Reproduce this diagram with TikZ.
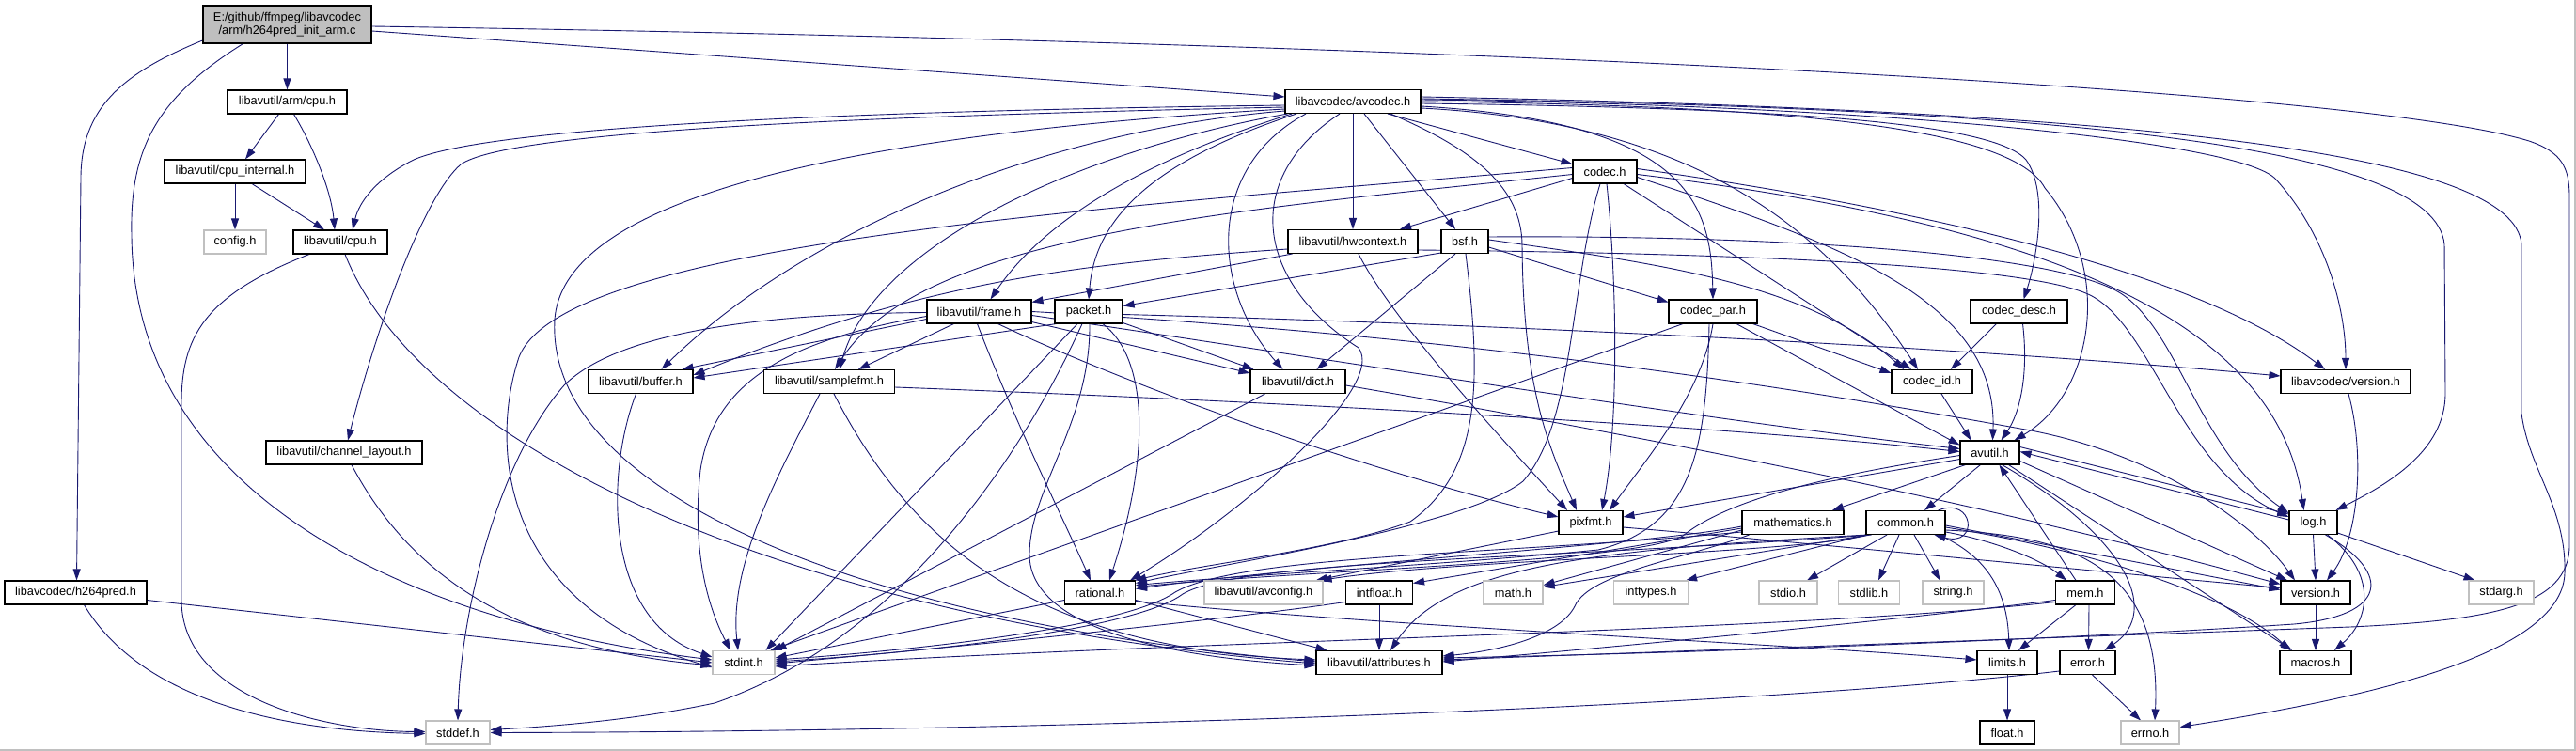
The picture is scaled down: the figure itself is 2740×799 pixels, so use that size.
\documentclass[tikz,border=0pt]{standalone}
\usepackage{fontspec}
\setmainfont{Liberation Sans}
\usetikzlibrary{arrows.meta,calc,backgrounds}
\definecolor{edgec}{HTML}{191970}
\definecolor{lgray}{HTML}{C0C0C0}
\definecolor{rootfill}{HTML}{BFBFBF}
\begin{document}
\begin{tikzpicture}[x=1pt,y=-1pt,
 nd/.style={draw=black,line width=1.1pt,fill=white,minimum height=25pt,inner sep=0pt,font=\fontsize{12.8}{14.5}\selectfont},
 ng/.style={nd,draw=lgray},
 e/.style={draw=edgec,line width=0.9pt,-{Triangle[length=12pt,width=8pt]}}]
\useasboundingbox (0,0) rectangle (2740,799);
% nodes
\node[nd,fill=rootfill,minimum width=179pt,minimum height=40pt,align=center] (root) at (305.5,26) {E:/github/ffmpeg/libavcodec\\/arm/h264pred\_init\_arm.c};
\node[nd,minimum width=127pt] (armcpu) at (305.5,108.5) {libavutil/arm/cpu.h};
\node[nd,minimum width=150pt] (cpuint) at (250,182.5) {libavutil/cpu\_internal.h};
\node[ng,minimum width=66pt] (config) at (250,257.5) {config.h};
\node[nd,minimum width=100pt] (cpu) at (362,257.5) {libavutil/cpu.h};
\node[nd,minimum width=166pt] (chlayout) at (366,481.5) {libavutil/channel\_layout.h};
\node[nd,minimum width=151pt] (h264pred) at (80.5,630.5) {libavcodec/h264pred.h};
\node[ng,minimum width=68pt] (stddef) at (487,779.5) {stddef.h};
\node[nd,minimum width=144pt] (avcodec) at (1439,108) {libavcodec/avcodec.h};
\node[nd,minimum width=68pt] (codec) at (1707,182.5) {codec.h};
\node[nd,minimum width=138pt] (hwcontext) at (1439,257) {libavutil/hwcontext.h};
\node[nd,minimum width=50pt] (bsf) at (1558,257) {bsf.h};
\node[nd,minimum width=111pt] (frame) at (1041.5,331.5) {libavutil/frame.h};
\node[nd,minimum width=72pt] (packet) at (1158,331.5) {packet.h};
\node[nd,minimum width=94pt] (codecpar) at (1822,331.5) {codec\_par.h};
\node[nd,minimum width=103pt] (codecdesc) at (2147.5,331.5) {codec\_desc.h};
\node[nd,minimum width=111pt] (buffer) at (681.5,406) {libavutil/buffer.h};
\node[nd,minimum width=139pt] (samplefmt) at (882,406) {libavutil/samplefmt.h};
\node[nd,minimum width=101pt] (dict) at (1380.5,406) {libavutil/dict.h};
\node[nd,minimum width=86pt] (codecid) at (2055,406) {codec\_id.h};
\node[nd,minimum width=138pt] (lavcversion) at (2495,406) {libavcodec/version.h};
\node[nd,minimum width=63pt] (avutil) at (2116.5,481.5) {avutil.h};
\node[nd,minimum width=68pt] (pixfmt) at (1692,556) {pixfmt.h};
\node[nd,minimum width=108pt] (mathematics) at (1907,556) {mathematics.h};
\node[nd,minimum width=84pt] (common) at (2027,556) {common.h};
\node[nd,minimum width=51pt] (log) at (2460.5,556) {log.h};
\node[nd,minimum width=75pt] (rational) at (1170,630.5) {rational.h};
\node[ng,minimum width=126pt] (avconfig) at (1344,630.5) {libavutil/avconfig.h};
\node[nd,minimum width=71pt] (intfloat) at (1467,630.5) {intfloat.h};
\node[ng,minimum width=63pt] (math) at (1609.5,630.5) {math.h};
\node[ng,minimum width=79pt] (inttypes) at (1756,630.5) {inttypes.h};
\node[ng,minimum width=62pt] (stdio) at (1902,630.5) {stdio.h};
\node[ng,minimum width=65pt] (stdlib) at (1988,630.5) {stdlib.h};
\node[ng,minimum width=65pt] (string) at (2077.5,630.5) {string.h};
\node[nd,minimum width=63pt] (mem) at (2218,630.5) {mem.h};
\node[nd,minimum width=74pt] (version) at (2463,630.5) {version.h};
\node[ng,minimum width=69pt] (stdarg) at (2660.5,630.5) {stdarg.h};
\node[ng,minimum width=66pt] (stdint) at (791,705) {stdint.h};
\node[nd,minimum width=134pt] (attributes) at (1467,705) {libavutil/attributes.h};
\node[nd,minimum width=64pt] (limits) at (2135,705) {limits.h};
\node[nd,minimum width=59pt] (error) at (2220.5,705) {error.h};
\node[nd,minimum width=76pt] (macros) at (2463,705) {macros.h};
\node[nd,minimum width=58pt] (float) at (2135,779.5) {float.h};
\node[ng,minimum width=62pt] (errno) at (2287,779.5) {errno.h};
\draw[lgray,line width=2pt] (0,798) -- (2739,798) -- (2739,0);
\begin{scope}[on background layer]
\fill[white] (0,0) rectangle (2740,799);
% root
\draw[e] (root.south) -- (armcpu.north);
\draw[e] ($(root.west)+(0,17)$) .. controls (130,78) and (86,115) .. (86,190) -- ($(h264pred.north)+(1,0)$);
\draw[e] ($(root.south)+(-47,0)$) .. controls (165,105) and (138,160) .. (140,250) .. controls (142,520) and (420,660) .. ($(stdint.west)+(0,-3)$);
\draw[e] ($(root.east)+(0,7)$) -- ($(avcodec.west)+(0,-5)$);
\draw[e] ($(root.east)+(0,2)$) .. controls (1500,45) and (2500,92) .. (2690,150) .. controls (2725,162) and (2733,178) .. (2733,210) -- (2733,580) .. controls (2733,645) and (2650,660) .. (2500,667) -- ($(attributes.east)+(0,-3)$);
% armcpu, cpuint, cpu
\draw[e] ($(armcpu.south)+(-9,0)$) -- ($(cpuint.north)+(11,0)$);
\draw[e] ($(armcpu.south)+(7,0)$) .. controls (330,150) and (352,200) .. ($(cpu.north)+(-6,0)$);
\draw[e] (cpuint.south) -- (config.north);
\draw[e] ($(cpuint.south)+(18,0)$) -- ($(cpu.north)+(-17,0)$);
\draw[e] ($(cpu.south)+(-33,0)$) .. controls (215,315) and (193,360) .. (193,430) -- (193,640) .. controls (195,745) and (350,778) .. ($(stddef.west)+(0,-1)$);
\draw[e] ($(cpu.south)+(5,0)$) .. controls (450,480) and (850,660) .. ($(attributes.west)+(0,1)$);
% chlayout, h264pred
\draw[e] ($(chlayout.south)+(8,0)$) .. controls (440,620) and (560,690) .. ($(stdint.west)+(0,3)$);
\draw[e] ($(h264pred.east)+(0,8)$) -- ($(stdint.west)+(0,0)$);
\draw[e] ($(h264pred.south)+(9,0)$) .. controls (150,745) and (300,778) .. ($(stddef.west)+(0,1)$);
% avcodec
\draw[e] ($(avcodec.west)+(0,4)$) .. controls (900,118) and (520,135) .. (440,170) .. controls (400,190) and (382,215) .. ($(cpu.north)+(13,0)$);
\draw[e] ($(avcodec.west)+(0,6)$) .. controls (900,124) and (540,140) .. (490,175) .. controls (450,210) and (400,350) .. ($(chlayout.north)+(4,0)$);
\draw[e] ($(avcodec.west)+(0,8)$) .. controls (950,140) and (600,200) .. (590,340) .. controls (580,520) and (900,660) .. ($(attributes.west)+(0,-1)$);
\draw[e] ($(avcodec.west)+(0,10)$) .. controls (1100,140) and (850,250) .. ($(buffer.north)+(22,0)$);
\draw[e] ($(avcodec.south west)+(3,0)$) .. controls (1150,160) and (930,260) .. ($(samplefmt.north)+(11,0)$);
\draw[e] ($(avcodec.south)+(-65,0)$) .. controls (1250,160) and (1120,220) .. ($(frame.north)+(12,0)$);
\draw[e] ($(avcodec.south)+(-60,0)$) .. controls (1230,170) and (1165,230) .. (packet.north);
\draw[e] ($(avcodec.south)+(-50,0)$) .. controls (1280,180) and (1290,310) .. ($(dict.north)+(-16,0)$);
\draw[e] ($(avcodec.south)+(-14,0)$) .. controls (1320,190) and (1335,300) .. (1445,370) .. controls (1475,410) and (1330,540) .. ($(rational.north east)+(-6,0)$);
\draw[e] (avcodec.south) -- (hwcontext.north);
\draw[e] ($(avcodec.south)+(12,0)$) -- ($(bsf.north)+(-10,0)$);
\draw[e] ($(avcodec.south)+(37,0)$) -- ($(codec.west)+(0,-8)$);
\draw[e] ($(avcodec.south)+(40,0)$) .. controls (1570,160) and (1618,200) .. (1619,260) .. controls (1620,420) and (1650,480) .. ($(pixfmt.north)+(-15,0)$);
\draw[e] ($(avcodec.east)+(0,5)$) .. controls (1800,130) and (1820,220) .. (codecpar.north);
\draw[e] ($(avcodec.east)+(0,7)$) .. controls (1800,130) and (1940,240) .. ($(codecid.north)+(-15,0)$);
\draw[e] ($(avcodec.east)+(0,2)$) .. controls (1900,115) and (2120,130) .. (2155,170) .. controls (2180,205) and (2165,280) .. ($(codecdesc.north)+(5,0)$);
\draw[e] ($(avcodec.east)+(0,0)$) .. controls (1900,112) and (2140,135) .. (2175,200) .. controls (2250,290) and (2225,420) .. ($(avutil.north east)+(-6,0)$);
\draw[e] ($(avcodec.east)+(0,-2)$) .. controls (2000,112) and (2380,150) .. (2420,190) .. controls (2475,250) and (2495,330) .. (lavcversion.north);
\draw[e] ($(avcodec.east)+(0,-3)$) .. controls (2200,115) and (2590,155) .. (2600,260) -- (2601,420) .. controls (2600,480) and (2540,515) .. ($(log.north east)+(-2,0)$);
\draw[e] ($(avcodec.east)+(0,-5)$) .. controls (2300,118) and (2675,165) .. (2682,260) -- (2682,440) .. controls (2690,500) and (2730,540) .. (2728,610) .. controls (2725,700) and (2500,745) .. ($(errno.east)+(0,-6)$);
% codec
\draw[e] ($(codec.west)+(0,7)$) -- ($(hwcontext.north)+(50,0)$);
\draw[e] ($(codec.west)+(0,3)$) .. controls (1300,225) and (980,250) .. ($(samplefmt.north)+(6,0)$);
\draw[e] ($(codec.west)+(0,-4)$) .. controls (1200,220) and (600,255) .. (552,380) .. controls (525,460) and (520,640) .. ($(stdint.west)+(0,5)$);
\draw[e] ($(codec.south)+(2,0)$) .. controls (1720,300) and (1722,450) .. ($(pixfmt.north)+(12,0)$);
\draw[e] ($(codec.south)+(-5,0)$) .. controls (1670,300) and (1675,450) .. (1620,512) .. controls (1560,560) and (1300,600) .. ($(rational.east)+(0,-10)$);
\draw[e] ($(codec.east)+(0,6)$) .. controls (1960,260) and (2125,320) .. ($(avutil.north)+(3,0)$);
\draw[e] ($(codec.south)+(20,0)$) -- ($(codecid.north)+(-22,0)$);
\draw[e] ($(codec.east)+(0,-3)$) .. controls (2100,230) and (2350,300) .. ($(lavcversion.north)+(-22,0)$);
\draw[e] ($(codec.east)+(0,3)$) .. controls (2150,235) and (2420,330) .. ($(log.north)+(-10,0)$);
% hwcontext
\draw[e] ($(hwcontext.west)+(0,8)$) .. controls (1150,280) and (980,300) .. ($(buffer.east)+(0,-7)$);
\draw[e] ($(hwcontext.south west)+(5,0)$) -- ($(frame.north east)+(0,3)$);
\draw[e] ($(hwcontext.south)+(6,0)$) .. controls (1480,340) and (1600,470) .. ($(pixfmt.north)+(-25,0)$);
\draw[e] ($(hwcontext.east)+(0,9)$) .. controls (1900,270) and (2170,285) .. (2225,315) .. controls (2290,350) and (2320,500) .. ($(log.west)+(0,-6)$);
% bsf
\draw[e] ($(bsf.south west)+(0,-1)$) -- ($(packet.east)+(0,-6)$);
\draw[e] ($(bsf.south)+(-10,0)$) -- ($(dict.north)+(20,0)$);
\draw[e] ($(bsf.south)+(1,0)$) .. controls (1575,400) and (1578,500) .. (1500,555) .. controls (1420,585) and (1280,600) .. ($(rational.north east)+(-1,0)$);
\draw[e] ($(bsf.east)+(0,6)$) -- ($(codecpar.west)+(0,-10)$);
\draw[e] ($(bsf.east)+(0,-2)$) .. controls (1760,280) and (1920,300) .. ($(codecid.north)+(-30,0)$);
\draw[e] ($(bsf.east)+(0,-5)$) .. controls (1900,250) and (2200,270) .. (2260,315) .. controls (2320,360) and (2340,480) .. ($(log.west)+(0,-10)$);
% frame
\draw[e] ($(frame.west)+(0,1)$) .. controls (780,334) and (650,360) .. (600,410) .. controls (530,490) and (490,650) .. (stddef.north);
\draw[e] ($(frame.west)+(0,5)$) .. controls (850,360) and (760,400) .. (745,500) .. controls (735,590) and (755,650) .. ($(stdint.north)+(-14,0)$);
\draw[e] ($(frame.west)+(0,8)$) -- ($(buffer.north east)+(-12,0)$);
\draw[e] ($(frame.south)+(-27,0)$) -- ($(samplefmt.north)+(31,0)$);
\draw[e] ($(frame.south)+(-2,0)$) .. controls (1080,450) and (1130,550) .. ($(rational.north)+(-10,0)$);
\draw[e] ($(frame.south)+(20,0)$) .. controls (1200,410) and (1450,500) .. ($(pixfmt.west)+(0,-6)$);
\draw[e] ($(frame.south east)+(0,-2)$) -- ($(dict.west)+(0,-9)$);
\draw[e] ($(frame.east)+(0,4)$) .. controls (1400,380) and (1800,445) .. ($(avutil.west)+(0,-4)$);
\draw[e] (frame.east) .. controls (1600,360) and (1950,420) .. (2160,458) .. controls (2300,485) and (2400,560) .. ($(version.north)+(-22,0)$);
% packet
\draw[e] ($(packet.south)+(-7,0)$) .. controls (1090,480) and (960,680) .. (760,748) .. controls (680,765) and (600,772) .. ($(stddef.east)+(0,-3)$);
\draw[e] ($(packet.south)+(-12,0)$) -- ($(stdint.north east)+(-10,0)$);
\draw[e] ($(packet.south)+(1,0)$) .. controls (1160,450) and (1095,520) .. (1095,590) .. controls (1095,670) and (1250,700) .. ($(attributes.west)+(0,3)$);
\draw[e] ($(packet.south west)+(2,0)$) -- ($(buffer.east)+(0,-4)$);
\draw[e] ($(packet.south east)+(0,-1)$) -- ($(dict.north west)+(4,0)$);
\draw[e] ($(packet.south)+(15,0)$) .. controls (1220,380) and (1225,480) .. ($(rational.north)+(10,0)$);
\draw[e] ($(packet.east)+(0,3)$) .. controls (1600,345) and (2100,370) .. ($(lavcversion.west)+(0,-6)$);
% codec_par
\draw[e] ($(codecpar.south)+(-32,0)$) -- ($(stdint.north east)+(-5,0)$);
\draw[e] ($(codecpar.south)+(-4,0)$) .. controls (1815,480) and (1800,560) .. (1700,585) .. controls (1550,600) and (1350,610) .. ($(rational.east)+(0,-8)$);
\draw[e] (codecpar.south) .. controls (1810,420) and (1750,490) .. ($(pixfmt.north)+(20,0)$);
\draw[e] ($(codecpar.south)+(25,0)$) -- ($(avutil.west)+(0,-8)$);
\draw[e] ($(codecpar.south east)+(-5,0)$) -- ($(codecid.west)+(0,-9)$);
% codec_desc, codec_id, lavc version
\draw[e] ($(codecdesc.south)+(-24,0)$) -- ($(codecid.north)+(20,0)$);
\draw[e] ($(codecdesc.south)+(4,0)$) .. controls (2158,400) and (2148,440) .. ($(avutil.north)+(12,0)$);
\draw[e] ($(codecid.south)+(10,0)$) -- ($(avutil.north)+(-20,0)$);
\draw[e] ($(lavcversion.south)+(3,0)$) .. controls (2515,480) and (2510,570) .. ($(version.north)+(12,0)$);
% buffer, samplefmt, dict
\draw[e] ($(buffer.south)+(-5,0)$) .. controls (645,500) and (640,660) .. ($(stdint.west)+(0,-6)$);
\draw[e] ($(samplefmt.south)+(-10,0)$) .. controls (830,500) and (775,600) .. ($(stdint.north)+(-6,0)$);
\draw[e] ($(samplefmt.south)+(5,0)$) .. controls (960,560) and (1080,690) .. ($(attributes.west)+(0,-3)$);
\draw[e] ($(samplefmt.east)+(0,6)$) .. controls (1300,425) and (1800,450) .. ($(avutil.west)+(0,-1)$);
\draw[e] ($(dict.south)+(-35,0)$) -- (stdint.north east);
\draw[e] ($(dict.east)+(0,4)$) .. controls (1900,490) and (2200,560) .. ($(version.west)+(0,-9)$);
% avutil
\draw[e] ($(avutil.west)+(0,7)$) -- ($(pixfmt.east)+(0,-6)$);
\draw[e] ($(avutil.south west)+(6,0)$) -- ($(mathematics.north)+(42,0)$);
\draw[e] ($(avutil.south)+(-10,0)$) -- ($(common.north)+(20,0)$);
\draw[e] ($(avutil.west)+(0,3)$) .. controls (1950,505) and (1840,530) .. (1790,570) .. controls (1740,598) and (1400,606) .. ($(rational.east)+(0,-6)$);
\draw[e] ($(avutil.east)+(0,-6)$) -- ($(log.west)+(0,-9)$);
\draw[e] ($(log.west)+(0,-3)$) -- ($(avutil.east)+(0,-1)$);
\draw[e] ($(avutil.east)+(0,9)$) -- ($(version.north)+(-30,0)$);
\draw[e] ($(avutil.south)+(20,0)$) -- ($(macros.north)+(-25,0)$);
\draw[e] ($(avutil.south)+(13,0)$) .. controls (2260,570) and (2300,650) .. ($(error.north)+(18,0)$);
% mathematics
\draw[e] ($(mathematics.west)+(0,8)$) -- ($(math.east)+(0,-8)$);
\draw[e] ($(mathematics.west)+(0,6)$) -- ($(intfloat.east)+(0,-10)$);
\draw[e] ($(mathematics.west)+(0,4)$) .. controls (1750,580) and (1400,600) .. ($(rational.east)+(0,-4)$);
\draw[e] ($(mathematics.west)+(0,10)$) .. controls (1600,590) and (1320,590) .. (1250,630) .. controls (1200,665) and (1000,690) .. ($(stdint.east)+(0,-3)$);
\draw[e] ($(mathematics.south west)+(8,0)$) .. controls (1790,595) and (1690,610) .. (1675,645) .. controls (1660,675) and (1600,692) .. ($(attributes.east)+(0,-7)$);
% common
\draw[e] ($(common.north east)+(-8,0)$) .. controls (2100,528) and (2105,582) .. ($(common.south east)+(-12,0)$);
\draw[e] ($(common.south)+(-20,0)$) -- ($(stdio.north)+(20,0)$);
\draw[e] ($(common.south)+(-7,0)$) -- ($(stdlib.north)+(10,0)$);
\draw[e] ($(common.south)+(9,0)$) -- ($(string.north)+(-14,0)$);
\draw[e] (common.south west) -- ($(inttypes.north east)+(-3,0)$);
\draw[e] ($(common.south west)+(3,0)$) -- ($(math.east)+(0,-6)$);
\draw[e] ($(common.south west)+(4,0)$) .. controls (1900,590) and (1550,595) .. ($(avconfig.north east)+(-3,0)$);
\draw[e] ($(common.south west)+(6,0)$) .. controls (1650,595) and (1320,595) .. (1258,632) .. controls (1210,668) and (1000,693) .. ($(stdint.east)+(0,-1)$);
\draw[e] ($(common.south west)+(1,0)$) .. controls (1700,585) and (1540,600) .. ($(attributes.north)+(12,0)$);
\draw[e] ($(common.east)+(0,10)$) .. controls (2120,575) and (2170,595) .. ($(mem.north)+(-20,0)$);
\draw[e] ($(common.south)+(35,0)$) .. controls (2110,590) and (2135,625) .. ($(limits.north)+(2,0)$);
\draw[e] ($(common.east)+(0,8)$) .. controls (2200,570) and (2300,600) .. ($(errno.north)+(5,0)$);
\draw[e] ($(common.east)+(0,5)$) .. controls (2250,590) and (2380,640) .. ($(macros.north)+(-27,0)$);
\draw[e] ($(common.east)+(0,3)$) -- ($(version.west)+(0,-3)$);
% log
\draw[e] ($(log.south east)+(0,-2)$) -- ($(stdarg.north)+(-28,0)$);
\draw[e] (log.south) -- (version.north);
\draw[e] ($(log.south)+(15,0)$) .. controls (2530,610) and (2520,660) .. ($(macros.north)+(20,0)$);
\draw[e] ($(log.south)+(13,0)$) .. controls (2545,610) and (2540,655) .. (2440,664) .. controls (2200,680) and (1800,695) .. ($(attributes.east)+(0,-5)$);
% pixfmt
\draw[e] ($(pixfmt.south west)+(0,-4)$) -- ($(avconfig.north east)+(-8,0)$);
\draw[e] ($(pixfmt.east)+(0,5)$) .. controls (1950,580) and (2250,610) .. ($(version.west)+(0,-5)$);
% rational, intfloat
\draw[e] ($(rational.west)+(0,8)$) -- ($(stdint.east)+(0,-5)$);
\draw[e] ($(rational.east)+(0,8)$) -- ($(attributes.north west)+(12,0)$);
\draw[e] ($(rational.east)+(0,9)$) .. controls (1450,665) and (1900,685) .. ($(limits.west)+(0,-3)$);
\draw[e] (intfloat.south) -- (attributes.north);
\draw[e] ($(intfloat.west)+(0,10)$) .. controls (1300,660) and (1000,690) .. ($(stdint.east)+(0,1)$);
% mem
\draw[e] ($(mem.north)+(-10,0)$) -- ($(avutil.south)+(10,0)$);
\draw[e] ($(mem.south)+(-10,0)$) -- ($(limits.north)+(12,0)$);
\draw[e] ($(mem.south)+(4,0)$) -- ($(error.north)+(1,0)$);
\draw[e] ($(mem.west)+(0,8)$) .. controls (2000,662) and (1700,690) .. ($(attributes.east)+(0,-1)$);
\draw[e] ($(mem.west)+(0,10)$) .. controls (1900,672) and (1300,680) .. ($(stdint.east)+(0,4)$);
% error, limits, version
\draw[e] ($(error.south)+(5,0)$) -- ($(errno.north)+(-10,0)$);
\draw[e] ($(error.west)+(0,9)$) .. controls (1900,748) and (1200,778) .. (stddef.east);
\draw[e] (limits.south) -- (float.north);
\draw[e] (version.south) -- (macros.north);
\end{scope}
\end{tikzpicture}
\end{document}
